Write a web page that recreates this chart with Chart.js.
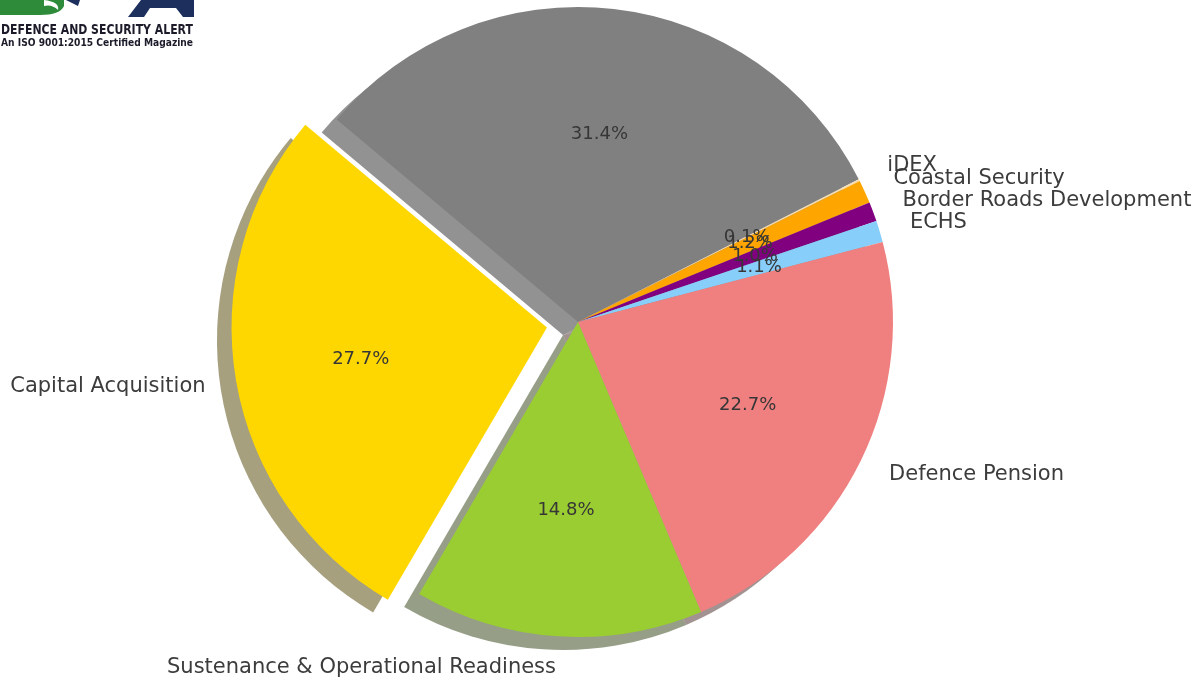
<!DOCTYPE html>
<html>
<head>
<meta charset="utf-8">
<script src="https://cdn.jsdelivr.net/npm/chart.js@4.4.1/dist/chart.umd.min.js"></script>
<style>
    html, body { margin: 0; padding: 0; background: #fff; }
    #wrap { position: relative; width: 1203px; height: 680px; overflow: hidden; }
    #logo { position: absolute; left: 0; top: 0; width: 196px; height: 52px; }
    #logo .t { position: absolute; left: 1px; white-space: nowrap; font-weight: bold; color: #1b1b2a;
               font-family: 'Liberation Sans Narrow', 'DejaVu Sans Condensed', sans-serif; transform-origin: 0 0; }
    #logo .t1 { top: 21px; font-size: 14px; }
    #logo .t2 { top: 36px; font-size: 11px; }
</style>
</head>
<body>
<div id="wrap">
    <canvas id="budgetChart"></canvas>
    <div id="logo">
        <svg width="196" height="20" style="position:absolute;left:0;top:0">
            <path d="M0 0 H64 V6 Q60 15 40 15 H0 Z" fill="#2e8b3a"/>
            <path d="M44 0 Q60 2 58 10 Q52 4 44 6 Z" fill="#fff"/>
            <path d="M66 0 H80 L78 6 Z" fill="#1d2f5c"/>
            <path d="M128 17 L141 0 H194 V17 H183 L176 8 H150 L144 17 Z" fill="#1d2f5c"/>
        </svg>
        <div class="t t1">DEFENCE AND SECURITY ALERT</div>
        <div class="t t2">An ISO 9001:2015 Certified Magazine</div>
    </div>
</div>
<script>
// budget shares (%), listed clockwise starting from the top grey slice
const categories = ['Pay & Allowances', 'iDEX', 'Coastal Security', 'Border Roads Development', 'ECHS',
    'Defence Pension', 'Sustenance & Operational Readiness', 'Capital Acquisition'];
const shares = [31.4, 0.1, 1.2, 1.0, 1.1, 22.7, 14.8, 27.7];
const sliceColors = ['#808080', '#f5deb3', '#ffa500', '#800080', '#87cefa', '#f08080', '#9acd32', '#ffd700'];
const explodedSlice = 'Capital Acquisition';

// squeeze the logo text into its box
document.querySelectorAll('#logo .t').forEach(el => {
    el.style.transform = 'scaleX(' + (192 / el.offsetWidth) + ')';
});

const shadowOf = (hex) => {
    const n = parseInt(hex.slice(1), 16);
    const r = (n >> 16) & 255, g = (n >> 8) & 255, b = n & 255;
    return 'rgba(' + Math.round(r * 0.3) + ',' + Math.round(g * 0.3) + ',' + Math.round(b * 0.3) + ',0.5)';
};

const piePlugin = {
    id: 'piePlugin',
    beforeDatasetsDraw(chart) {
        const ctx = chart.ctx;
        ctx.save();
        chart.getDatasetMeta(0).data.forEach(arc => {
            const mid = (arc.startAngle + arc.endAngle) / 2;
            const shift = (arc.options.offset || 0) / 4;
            const cx = arc.x + Math.cos(mid) * shift - 15;
            const cy = arc.y + Math.sin(mid) * shift + 13;
            ctx.fillStyle = shadowOf(arc.options.backgroundColor);
            ctx.beginPath();
            ctx.moveTo(cx, cy);
            ctx.arc(cx, cy, arc.outerRadius, arc.startAngle, arc.endAngle);
            ctx.closePath();
            ctx.fill();
        });
        ctx.restore();
    },
    afterDatasetsDraw(chart) {
        const ctx = chart.ctx;
        const total = shares.reduce((a, b) => a + b, 0);
        ctx.save();
        ctx.textBaseline = 'middle';
        chart.getDatasetMeta(0).data.forEach((arc, i) => {
            const mid = (arc.startAngle + arc.endAngle) / 2;
            const shift = (arc.options.offset || 0) / 4;
            const R = arc.outerRadius;
            const cos = Math.cos(mid), sin = Math.sin(mid);
            // percentage inside
            ctx.fillStyle = '#363636';
            ctx.font = '18px "DejaVu Sans"';
            ctx.textAlign = 'center';
            ctx.fillText((shares[i] / total * 100).toFixed(1) + '%',
                arc.x + cos * (shift + 0.6 * R), arc.y + sin * (shift + 0.6 * R));
            // category outside
            ctx.fillStyle = '#3c3c3c';
            ctx.font = '21px "DejaVu Sans"';
            const lx = cos * (shift + 1.1 * R);
            ctx.textAlign = lx > 0 ? 'left' : 'right';
            ctx.fillText(categories[i], arc.x + lx, arc.y + sin * (shift + 1.1 * R));
        });
        ctx.restore();
    }
};

const el = document.getElementById('budgetChart');
el.parentNode.style.width = '1203px';
new Chart(el, {
    type: 'pie',
    data: {
        labels: categories,
        datasets: [{
            data: shares,
            backgroundColor: sliceColors,
            borderWidth: 0,
            hoverOffset: 0,
            offset: (c) => categories[c.dataIndex] === explodedSlice ? 126 : 0,
        }],
    },
    options: {
        responsive: true,
        maintainAspectRatio: false,
        animation: false,
        rotation: -50,
        radius: 315,
        layout: { padding: { left: 0, right: 47, top: 0, bottom: 36 } },
        plugins: { legend: { display: false }, tooltip: { enabled: false } },
    },
    plugins: [piePlugin],
});
</script>
</body>
</html>
